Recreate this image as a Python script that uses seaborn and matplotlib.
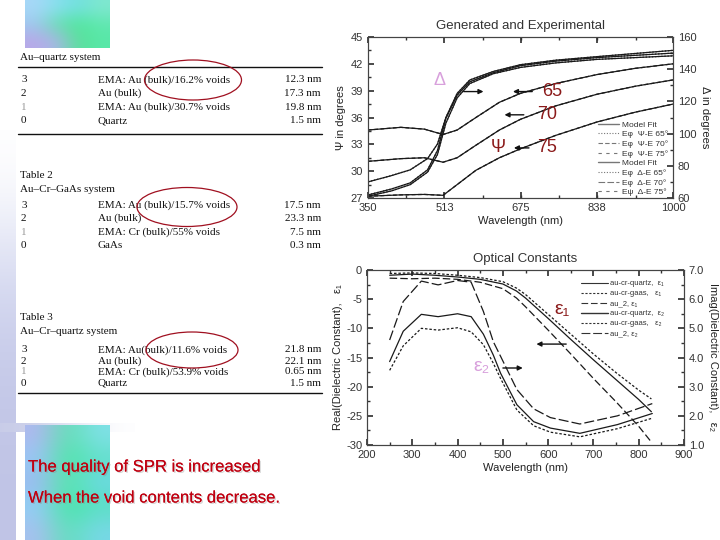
import numpy as np
import matplotlib
matplotlib.use("Agg")
import matplotlib.pyplot as plt
import matplotlib.patheffects as pe
from matplotlib.patches import Ellipse
from matplotlib.lines import Line2D
from matplotlib.ticker import AutoMinorLocator, FormatStrFormatter
import seaborn as sns

# ---------------- data ----------------
# Generated and Experimental: Psi (left axis, degrees)
wl_psi = [350, 420, 470, 510, 540, 580, 630, 675, 750, 838, 920, 1000]
psi_65 = [34.6, 34.9, 34.7, 34.1, 34.6, 36.0, 37.7, 38.7, 39.8, 40.8, 41.5, 42.0]
psi_70 = [31.1, 31.4, 31.5, 31.0, 31.5, 32.9, 34.6, 35.8, 37.3, 38.6, 39.5, 40.2]
psi_75 = [27.2, 27.35, 27.4, 27.3, 28.5, 30.1, 31.5, 32.5, 34.0, 35.5, 36.6, 37.5]

# Delta (right axis, degrees)
wl_delta = [350, 400, 440, 477, 498, 516, 540, 567, 617, 675, 750, 838, 1000]
delta_65 = [70.0, 73.9, 77.5, 84.5, 93.5, 110.0, 125.0, 133.3, 138.6, 142.8, 145.6, 147.8, 151.7]
delta_70 = [61.9, 65.6, 69.4, 77.5, 89.5, 109.5, 123.9, 132.2, 137.8, 142.2, 145.0, 147.2, 150.0]
delta_75 = [61.1, 64.4, 68.3, 76.1, 87.0, 106.5, 122.2, 131.1, 137.2, 141.1, 143.9, 146.1, 148.3]

# Optical constants: eps1 (left axis)
wl_e1 = [250, 300, 350, 400, 450, 500, 530, 550, 600, 650, 700, 750, 800, 828]
e1_quartz = [-0.9, -0.7, -0.9, -1.2, -1.6, -2.4, -3.6, -4.8, -8.3, -11.9, -15.4, -18.8, -22.2, -24.3]
e1_gaas = [-0.6, -0.5, -0.6, -0.9, -1.3, -2.0, -3.1, -4.2, -7.6, -11.0, -14.4, -17.6, -20.6, -22.1]
e1_au2 = [-1.4, -1.5, -1.4, -1.6, -2.1, -3.2, -4.8, -6.3, -10.3, -14.4, -18.6, -22.6, -26.8, -29.5]

# eps2 (right axis)
wl_e2 = [250, 280, 320, 357, 400, 430, 457, 479, 495, 531, 568, 605, 670, 753, 830]
e2_quartz = [3.86, 4.90, 5.48, 5.40, 5.50, 5.40, 4.80, 4.08, 3.46, 2.38, 1.80, 1.58, 1.40, 1.70, 2.08]
e2_gaas = [3.56, 4.40, 5.00, 4.94, 5.02, 4.88, 4.44, 3.80, 3.28, 2.20, 1.66, 1.44, 1.28, 1.56, 1.92]
e2_au2 = [4.60, 5.92, 6.62, 6.49, 6.64, 6.58, 5.58, 4.54, 4.04, 2.90, 2.24, 1.94, 1.72, 2.00, 2.42]

# tables on the left
table1_title = "Au\u2013quartz system"
table1 = [("3", "EMA: Au (bulk)/16.2% voids", "12.3 nm"),
          ("2", "Au (bulk)", "17.3 nm"),
          ("1", "EMA: Au (bulk)/30.7% voids", "19.8 nm"),
          ("0", "Quartz", "1.5 nm")]
table2_title = ["Table 2", "Au\u2013Cr\u2013GaAs system"]
table2 = [("3", "EMA: Au (bulk)/15.7% voids", "17.5 nm"),
          ("2", "Au (bulk)", "23.3 nm"),
          ("1", "EMA: Cr (bulk)/55% voids", "7.5 nm"),
          ("0", "GaAs", "0.3 nm")]
table3_title = ["Table 3", "Au\u2013Cr\u2013quartz system"]
table3 = [("3", "EMA: Au(bulk)/11.6% voids", "21.8 nm"),
          ("2", "Au (bulk)", "22.1 nm"),
          ("1", "EMA: Cr (bulk)/53.9% voids", "0.65 nm"),
          ("0", "Quartz", "1.5 nm")]
message = ["The quality of SPR is increased", "When the void contents decrease."]

# ---------------- style ----------------
sns.set_theme(style="ticks")
plt.rcParams['font.family'] = ['Liberation Sans', 'DejaVu Sans']
plt.rcParams.update({
    "axes.unicode_minus": False,
    "xtick.direction": "in", "ytick.direction": "in",
    "xtick.labelsize": 8, "ytick.labelsize": 8,
    "xtick.color": "#333333", "ytick.color": "#333333",
    "axes.edgecolor": "#444444", "axes.linewidth": 0.8,
    "xtick.major.size": 4, "ytick.major.size": 4,
    "xtick.minor.size": 2, "ytick.minor.size": 2,
})

W, H = 720, 540
fig = plt.figure(figsize=(7.2, 5.4), dpi=100)

# background canvas in pixel coordinates
bg = fig.add_axes([0, 0, 1, 1])
bg.set_xlim(0, W)
bg.set_ylim(H, 0)
bg.axis("off")


def hexgrid(rows):
    return np.array([[matplotlib.colors.to_rgb(c) for c in r] for r in rows])


# decorative gradients
top_patch = hexgrid([["#a8d8f8", "#88e0f0", "#70e0e0", "#80e8d0"],
                     ["#a0c8f0", "#68e0b0", "#4ee89a", "#60e8b0"],
                     ["#b8a8e8", "#a8b8e8", "#58e098", "#58e8a8"]])
bg.imshow(top_patch, extent=(25, 110, 48, 0), interpolation="bicubic", aspect="auto", zorder=1)

strip = hexgrid([["#ffffff"], ["#d4d8f0"], ["#c4c8e8"], ["#c0c4e6"]])
bg.imshow(strip, extent=(0, 16, 540, 130), interpolation="bicubic", aspect="auto", zorder=1)
band = hexgrid([["#c8cce8", "#dfe2f2", "#ffffff"]])
bg.imshow(band, extent=(0, 135, 432, 423), interpolation="bicubic", aspect="auto", zorder=1)

low_patch = hexgrid([["#b0b8f0", "#60e0b0", "#80e0e8"],
                     ["#98c8f8", "#48e8a0", "#60e0c8"],
                     ["#a0b8f0", "#58e8a8", "#70d8e8"],
                     ["#90d0f8", "#40e8a0", "#58e0c0"],
                     ["#a8c0f0", "#60e0b8", "#78d8e8"]])
bg.imshow(low_patch, extent=(25, 110, 540, 425), interpolation="bicubic", aspect="auto", zorder=1)


def draw_table(rows, y0, dy):
    for k, (a, b, c) in enumerate(rows):
        y = y0 + k * dy
        col = "#999999" if a == "1" else "#111111"
        bg.text(21, y, a, family="Liberation Serif", fontsize=8, color=col, va="center", zorder=3)
        bg.text(98, y, b, family="Liberation Serif", fontsize=8, color="#111111", va="center", zorder=3)
        bg.text(321, y, c, family="Liberation Serif", fontsize=8, color="#111111", va="center",
                ha="right", zorder=3)


serif = dict(family="Liberation Serif", fontsize=8, color="#111111", va="center", zorder=3)
bg.text(20, 57, table1_title, **serif)
bg.plot([18, 322], [67, 67], color="#111111", lw=1.0, zorder=3)
draw_table(table1, 80, 13.6)
bg.plot([18, 322], [134, 134], color="#111111", lw=1.0, zorder=3)

bg.text(20, 175, table2_title[0], **serif)
bg.text(20, 189, table2_title[1], **serif)
draw_table(table2, 205, 13.6)

bg.text(20, 318, table3_title[0], **serif)
bg.text(20, 332, table3_title[1], **serif)
draw_table(table3, 350, 11.0)
bg.plot([18, 322], [393, 393], color="#111111", lw=1.0, zorder=3)

for cx, cy, ew, eh in [(193, 80, 97, 40), (187, 207, 100, 39), (192, 350, 92, 36)]:
    bg.add_patch(Ellipse((cx, cy), ew, eh, fill=False, edgecolor="#a01020", lw=0.9, zorder=4))

shadow = [pe.withSimplePatchShadow(offset=(1, -1), shadow_rgbFace="#888888", alpha=0.35), pe.Normal()]
for k, line in enumerate(message):
    bg.text(28, 467 + k * 31, line, fontsize=12, color="#c00010", va="center", zorder=5,
            path_effects=shadow)

# ---------------- top chart ----------------
def px_axes(left, right, top, bottom):
    return fig.add_axes([left / W, 1 - bottom / H, (right - left) / W, (bottom - top) / H])


line_kw = dict(color="#1a1a1a", lw=0.9)
ax1 = px_axes(368, 673, 37, 198)
ax1r = ax1.twinx()

for y in (psi_65, psi_70, psi_75):
    sns.lineplot(x=wl_psi, y=y, ax=ax1, **line_kw)
    sns.lineplot(x=wl_psi, y=y, ax=ax1, linestyle=(0, (3, 2)), **line_kw)
for y in (delta_65, delta_70, delta_75):
    sns.lineplot(x=wl_delta, y=y, ax=ax1r, **line_kw)
    sns.lineplot(x=wl_delta, y=y, ax=ax1r, linestyle=(0, (1, 1.5)), **line_kw)

ax1.set_xlim(350, 1000)
ax1.set_ylim(27, 45)
ax1r.set_ylim(60, 160)
ax1.set_xticks([350, 513, 675, 838, 1000])
ax1.set_yticks(np.arange(27, 46, 3))
ax1r.set_yticks(np.arange(60, 161, 20))
ax1.yaxis.set_minor_locator(AutoMinorLocator(2))
ax1r.yaxis.set_minor_locator(AutoMinorLocator(2))
ax1.xaxis.set_minor_locator(AutoMinorLocator(2))
ax1.tick_params(top=True, which="both")
ax1.set_xlabel("Wavelength (nm)", fontsize=8, color="#222222", labelpad=2)
ax1.set_ylabel("\u03a8 in degrees", fontsize=8, color="#222222", labelpad=3)
ax1r.set_ylabel("\u0394 in degrees", fontsize=8, color="#222222", rotation=-90, labelpad=10)
ax1.set_title("Generated and Experimental", fontsize=9.5, color="#333333", pad=6)

gray = "#777777"
leg1 = [Line2D([], [], color=gray, lw=1.0, ls="-"),
        Line2D([], [], color=gray, lw=0.8, ls=(0, (1, 1.5))),
        Line2D([], [], color=gray, lw=0.8, ls=(0, (4, 2))),
        Line2D([], [], color=gray, lw=0.8, ls=(0, (3, 4))),
        Line2D([], [], color=gray, lw=1.0, ls="-"),
        Line2D([], [], color=gray, lw=0.8, ls=(0, (1, 1.5))),
        Line2D([], [], color=gray, lw=0.8, ls=(0, (6, 2))),
        Line2D([], [], color=gray, lw=0.8, ls=(0, (3, 4)))]
leg1_labels = ["Model Fit", "E\u03c6  \u03a8-E 65\u00b0", "E\u03c6  \u03a8-E 70\u00b0", "E\u03c6  \u03a8-E 75\u00b0",
               "Model Fit", "E\u03c6  \u0394-E 65\u00b0", "E\u03c6  \u0394-E 70\u00b0", "E\u03c8  \u0394-E 75\u00b0"]
ax1r.legend(leg1, leg1_labels, loc="lower right", bbox_to_anchor=(1.0, -0.02), frameon=False,
            fontsize=6, handlelength=2.6, handletextpad=0.3, labelspacing=0.22, borderaxespad=0.2,
            labelcolor="#333333")

dark_red = "#8b1a1a"
pink = "#d8a0dc"
arrow = dict(arrowstyle="-|>", color="#111111", lw=1.0, mutation_scale=7)
ax1.text(503, 40.1, "\u0394", fontsize=13, color=pink, ha="center", va="center")
ax1.annotate("", xy=(602, 38.9), xytext=(548, 38.9), arrowprops=arrow)
ax1.text(743, 38.9, "65", fontsize=13, color=dark_red, ha="center", va="center")
ax1.annotate("", xy=(653, 38.9), xytext=(706, 38.9), arrowprops=arrow)
ax1.text(731, 36.3, "70", fontsize=13, color=dark_red, ha="center", va="center")
ax1.annotate("", xy=(635, 36.3), xytext=(688, 36.3), arrowprops=arrow)
ax1.text(627, 32.6, "\u03a8", fontsize=13, color=dark_red, ha="center", va="center")
ax1.text(731, 32.6, "75", fontsize=13, color=dark_red, ha="center", va="center")
ax1.annotate("", xy=(655, 32.6), xytext=(699, 32.6), arrowprops=arrow)

# ---------------- bottom chart ----------------
ax2 = px_axes(367, 684, 270, 445)
ax2r = ax2.twinx()

sns.lineplot(x=wl_e1, y=e1_quartz, ax=ax2, ls="-", **line_kw)
sns.lineplot(x=wl_e1, y=e1_gaas, ax=ax2, ls=(0, (2, 1.5)), **line_kw)
sns.lineplot(x=wl_e1, y=e1_au2, ax=ax2, ls=(0, (6, 2.5)), **line_kw)
sns.lineplot(x=wl_e2, y=e2_quartz, ax=ax2r, ls="-", **line_kw)
sns.lineplot(x=wl_e2, y=e2_gaas, ax=ax2r, ls=(0, (2, 1.5)), **line_kw)
sns.lineplot(x=wl_e2, y=e2_au2, ax=ax2r, ls=(0, (8, 2.5)), **line_kw)

ax2.set_xlim(200, 900)
ax2.set_ylim(-30, 0)
ax2r.set_ylim(1.0, 7.0)
ax2.set_xticks(np.arange(200, 901, 100))
ax2.set_yticks(np.arange(-30, 1, 5))
ax2r.set_yticks(np.arange(1.0, 7.01, 1.0))
ax2r.yaxis.set_major_formatter(FormatStrFormatter("%.1f"))
ax2.xaxis.set_minor_locator(AutoMinorLocator(2))
ax2.yaxis.set_minor_locator(AutoMinorLocator(2))
ax2r.yaxis.set_minor_locator(AutoMinorLocator(2))
ax2.tick_params(top=True, which="both")
ax2.set_xlabel("Wavelength (nm)", fontsize=8, color="#222222", labelpad=2)
ax2.set_ylabel("Real(Dielectric Constant),   \u03b5\u2081", fontsize=8, color="#222222", labelpad=2)
ax2r.set_ylabel("Imag(Dielectric Constant),   \u03b5\u2082", fontsize=8, color="#222222",
                rotation=-90, labelpad=10)
ax2.set_title("Optical Constants", fontsize=9.5, color="#333333", pad=6)

leg2 = [Line2D([], [], color="#333333", lw=0.8, ls="-"),
        Line2D([], [], color="#333333", lw=0.8, ls=(0, (2, 1.5))),
        Line2D([], [], color="#333333", lw=0.8, ls=(0, (6, 2.5))),
        Line2D([], [], color="#333333", lw=1.0, ls="-"),
        Line2D([], [], color="#333333", lw=0.8, ls=(0, (2, 1.5))),
        Line2D([], [], color="#333333", lw=0.8, ls=(0, (8, 2.5)))]
leg2_labels = ["au-cr-quartz,  \u03b5\u2081", "au-cr-gaas,   \u03b5\u2081", "au_2, \u03b5\u2081",
               "au-cr-quartz,  \u03b5\u2082", "au-cr-gaas,   \u03b5\u2082", "au_2, \u03b5\u2082"]
ax2r.legend(leg2, leg2_labels, loc="upper right", bbox_to_anchor=(0.95, 0.97), frameon=False,
            fontsize=5.5, handlelength=3.5, handletextpad=0.2, labelspacing=0.35, borderaxespad=0.2,
            labelcolor="#333333")

ax2.text(631, -6.8, "\u03b5\u2081", fontsize=14, color=dark_red, ha="center", va="center")
ax2.annotate("", xy=(568, -12.7), xytext=(646, -12.7), arrowprops=arrow)
ax2.text(453, -16.5, "\u03b5\u2082", fontsize=14, color=pink, ha="center", va="center")
ax2.annotate("", xy=(550, -16.8), xytext=(494, -16.8), arrowprops=arrow)

fig.savefig("out.png", dpi=100)
